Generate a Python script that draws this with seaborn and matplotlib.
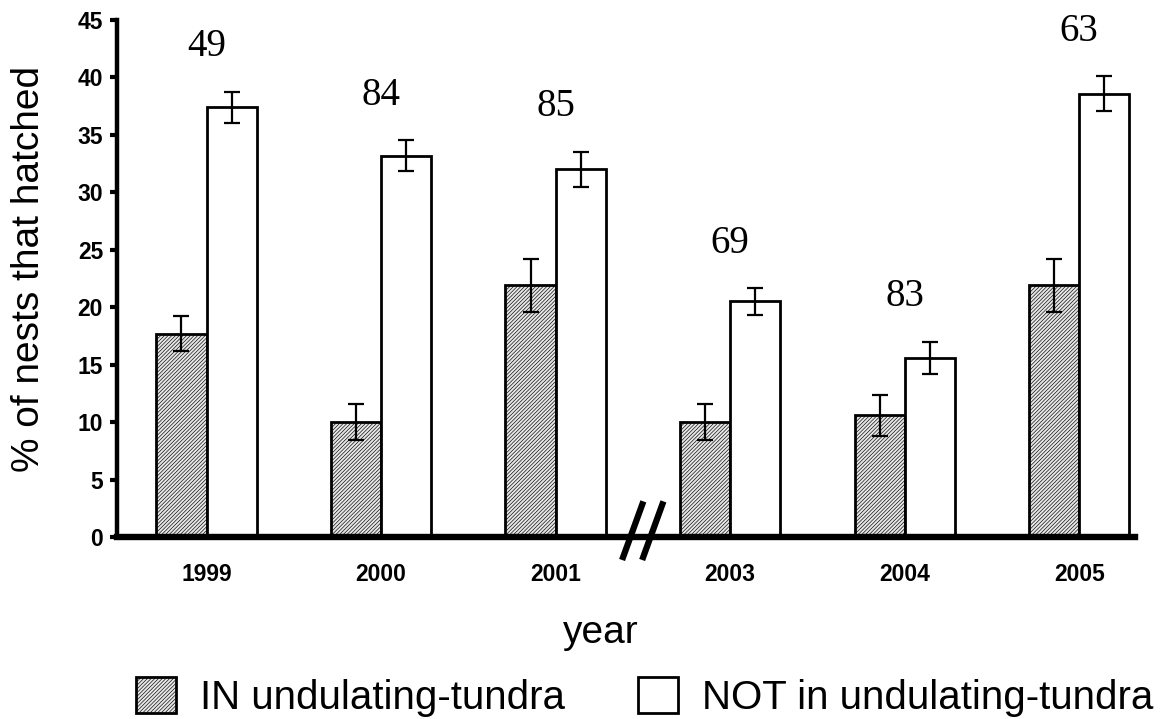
import matplotlib
matplotlib.use("Agg")
import matplotlib.pyplot as plt
import seaborn as sns
import pandas as pd
import numpy as np

# ---- data ----
years = ["1999", "2000", "2001", "2003", "2004", "2005"]
in_tundra = [17.7, 10.0, 21.9, 10.0, 10.6, 21.9]
in_err = [1.55, 1.6, 2.3, 1.6, 1.8, 2.3]
not_tundra = [37.4, 33.2, 32.0, 20.5, 15.6, 38.6]
not_err = [1.35, 1.35, 1.55, 1.15, 1.4, 1.5]
sample_n = ["49", "84", "85", "69", "83", "63"]
groups = ["IN undulating-tundra", "NOT in undulating-tundra"]

df = pd.DataFrame({
    "year": years * 2,
    "value": in_tundra + not_tundra,
    "err": in_err + not_err,
    "group": [groups[0]] * len(years) + [groups[1]] * len(years),
})

sns.set_theme(style="white")
plt.rcParams["font.family"] = ["Liberation Sans", "DejaVu Sans"]
plt.rcParams["hatch.linewidth"] = 0.45
plt.rcParams["hatch.color"] = "#222222"
plt.rcParams["text.color"] = "black"
plt.rcParams["axes.labelcolor"] = "black"
plt.rcParams["xtick.color"] = "black"
plt.rcParams["ytick.color"] = "black"

fig = plt.figure(figsize=(11.66, 7.19), dpi=100)
ax = fig.add_axes([117 / 1166, 182 / 719, 1018 / 1166, 517 / 719])

sns.barplot(data=df, x="year", y="value", hue="group", order=years,
            hue_order=groups, palette={groups[0]: "#e6e6e6", groups[1]: "white"},
            errorbar=None, width=0.574, gap=0, edgecolor="black",
            linewidth=2.0, legend=False, ax=ax, saturation=1)

# hatch the IN bars
for p in ax.containers[0].patches:
    p.set_hatch("/////////")

# error bars on bar centres
for cont, errs in zip(ax.containers, [in_err, not_err]):
    xs = [p.get_x() + p.get_width() / 2 for p in cont.patches]
    hs = [p.get_height() for p in cont.patches]
    ax.errorbar(xs, hs, yerr=errs, fmt="none", ecolor="black",
                elinewidth=1.6, capsize=6.1, capthick=1.6, zorder=5)

# sample size labels
for i, (n, v, e) in enumerate(zip(sample_n, not_tundra, not_err)):
    ax.text(i, v + e + 3.9, n, ha="center", va="center", fontsize=28,
            color="black", family=["Liberation Serif", "DejaVu Serif"])

ax.set_ylim(0, 45)
ax.set_xlim(-0.513, 5.32)
ax.set_yticks(np.arange(0, 46, 5))

for s in ["top", "right"]:
    ax.spines[s].set_visible(False)
ax.spines["left"].set_linewidth(3.2)
ax.spines["bottom"].set_linewidth(4.6)
ax.spines["left"].set_color("black")
ax.spines["bottom"].set_color("black")

ax.tick_params(axis="y", direction="out", length=5, width=3, pad=5,
               labelsize=16.5, left=True, color="black", labelcolor="black")
ax.tick_params(axis="x", length=0, pad=19, labelsize=16.5, labelcolor="black")
for lab in ax.get_xticklabels() + ax.get_yticklabels():
    lab.set_fontweight("bold")

ax.set_ylabel("% of nests that hatched", fontsize=28, color="black")
ax.yaxis.set_label_coords(-0.069, 0.518)
ax.set_xlabel("year", fontsize=28, va="center", color="black")
ax.xaxis.set_label_coords(0.475, -0.186)

# axis break marks between 2001 and 2003
for x0 in [2.381, 2.496]:
    ax.plot([x0, x0 + 0.122], [-2.0, 3.1], color="black", lw=4.5,
            clip_on=False, solid_capstyle="butt", zorder=6)

fig.legend(handles=[ax.containers[0], ax.containers[1]], labels=groups,
           loc="lower center", bbox_to_anchor=(0.553, 0.0), ncol=2,
           frameon=False, fontsize=29, handlelength=1.0, handleheight=1.0,
           handletextpad=0.6, columnspacing=1.8, borderpad=0.05,
           borderaxespad=0)

fig.savefig("out.png", dpi=100)
